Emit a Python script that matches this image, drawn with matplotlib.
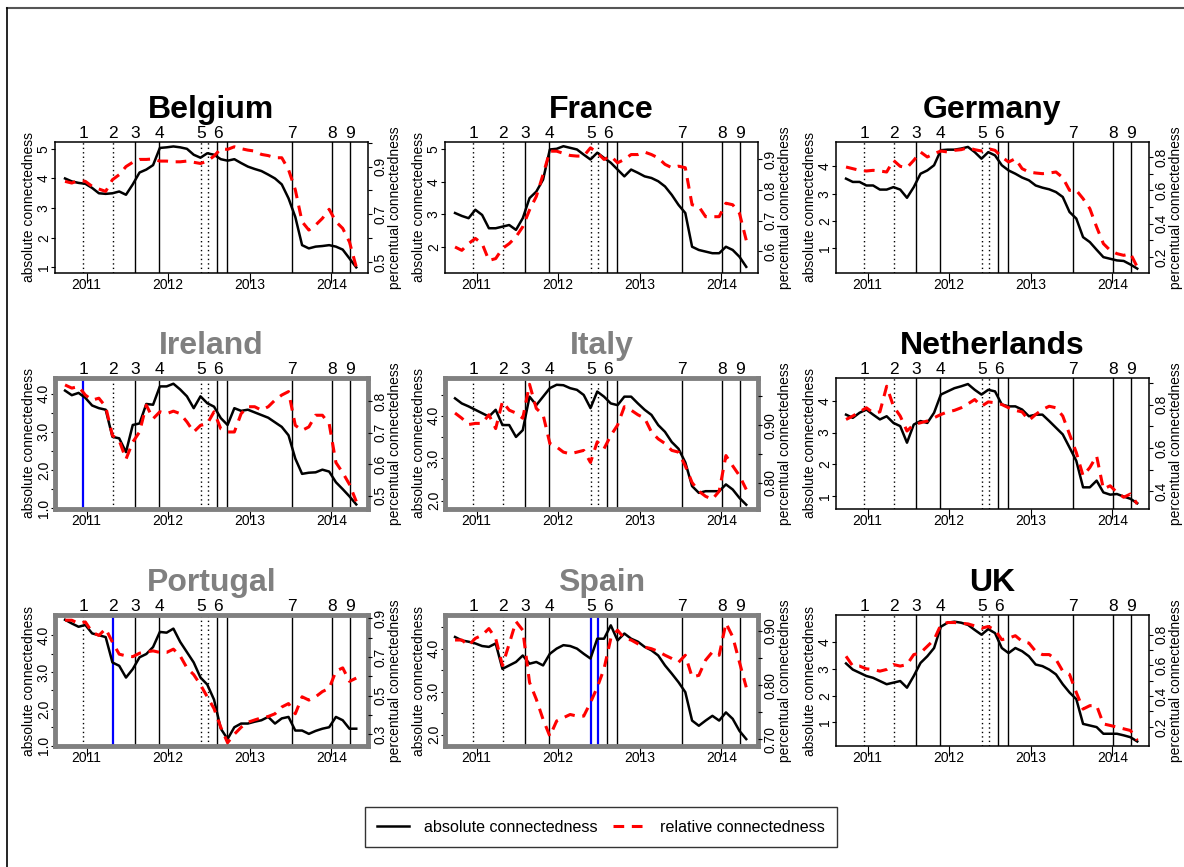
import matplotlib.pyplot as plt
import numpy as np
from matplotlib.lines import Line2D

plt.rcParams['font.family'] = ['Liberation Sans', 'DejaVu Sans']

# monthly observation grid (decimal years)
years = np.linspace(2010.735, 2014.305, 44)

events = [2010.959, 2011.327, 2011.592, 2011.890, 2012.400, 2012.482,
          2012.604, 2012.722, 2013.522, 2014.012, 2014.224]
event_labels = ['1', '2', '3', '4', '5', '', '6', '', '7', '8', '9']
event_dotted = [True, True, False, False, True, True, False, False, False, False, False]
year_ticks = [2011, 2012, 2013, 2014]

countries = ['Belgium', 'France', 'Germany', 'Ireland', 'Italy', 'Netherlands',
             'Portugal', 'Spain', 'UK']
highlighted = ['Ireland', 'Italy', 'Portugal', 'Spain']
blue_events = {'Ireland': [0], 'Portugal': [1], 'Spain': [4, 5]}

belgium_abs = [4.0, 3.9, 3.85, 3.82, 3.68, 3.5, 3.48, 3.5, 3.56, 3.45, 3.8, 4.2, 4.3, 4.45,
               5.03, 5.05, 5.08, 5.05, 5.0, 4.8, 4.7, 4.85, 4.8, 4.65, 4.6, 4.65, 4.52, 4.4,
               4.32, 4.25, 4.13, 4.0, 3.8, 3.33, 2.7, 1.75, 1.64, 1.7, 1.72, 1.75, 1.7, 1.6,
               1.3, 1.0]
belgium_rel = [0.838, 0.831, 0.842, 0.838, 0.817, 0.806, 0.796, 0.845, 0.866, 0.90, 0.918,
               0.93, 0.93, 0.932, 0.923, 0.923, 0.92, 0.92, 0.923, 0.918, 0.913, 0.923, 0.944,
               0.975, 0.972, 0.983, 0.975, 0.969, 0.965, 0.951, 0.946, 0.937, 0.937, 0.887,
               0.803, 0.669, 0.634, 0.655, 0.683, 0.721, 0.669, 0.641, 0.584, 0.479]

france_abs = [3.04, 2.95, 2.88, 3.14, 2.98, 2.57, 2.57, 2.62, 2.67, 2.52, 2.88, 3.5, 3.7, 4.07,
              5.0, 5.02, 5.1, 5.05, 5.0, 4.84, 4.69, 4.9, 4.74, 4.59, 4.38, 4.17, 4.38, 4.28,
              4.17, 4.12, 4.02, 3.86, 3.6, 3.29, 3.04, 2.0, 1.9, 1.85, 1.8, 1.8, 2.0, 1.9,
              1.69, 1.38]
france_rel = [0.614, 0.603, 0.625, 0.642, 0.625, 0.57, 0.576, 0.609, 0.625, 0.647, 0.68, 0.735,
              0.779, 0.851, 0.927, 0.927, 0.92, 0.913, 0.911, 0.911, 0.938, 0.922, 0.9, 0.911,
              0.889, 0.9, 0.916, 0.916, 0.924, 0.916, 0.905, 0.884, 0.873, 0.878, 0.873, 0.752,
              0.746, 0.713, 0.713, 0.713, 0.757, 0.752, 0.724, 0.636]

germany_abs = [3.55, 3.43, 3.43, 3.3, 3.3, 3.15, 3.15, 3.24, 3.15, 2.85, 3.24, 3.73, 3.85, 4.04,
               4.59, 4.61, 4.61, 4.65, 4.71, 4.52, 4.28, 4.52, 4.4, 4.04, 3.85, 3.73, 3.59,
               3.49, 3.3, 3.22, 3.16, 3.06, 2.88, 2.33, 2.09, 1.41, 1.23, 0.95, 0.68, 0.62,
               0.56, 0.54, 0.41, 0.26]
germany_rel = [0.74, 0.73, 0.72, 0.716, 0.72, 0.716, 0.71, 0.78, 0.744, 0.736, 0.78, 0.83, 0.8,
               0.82, 0.836, 0.83, 0.84, 0.844, 0.856, 0.844, 0.836, 0.85, 0.84, 0.8, 0.77, 0.79,
               0.73, 0.71, 0.704, 0.7, 0.704, 0.71, 0.676, 0.6, 0.6, 0.55, 0.49, 0.38, 0.28,
               0.24, 0.22, 0.21, 0.22, 0.14]

ireland_abs = [4.08, 3.96, 4.02, 3.89, 3.69, 3.62, 3.58, 2.87, 2.83, 2.47, 3.18, 3.22, 3.73,
               3.71, 4.19, 4.19, 4.26, 4.11, 3.93, 3.62, 3.93, 3.75, 3.66, 3.36, 3.18, 3.62,
               3.55, 3.58, 3.51, 3.44, 3.37, 3.25, 3.13, 2.91, 2.3, 1.9, 1.93, 1.94, 2.01, 1.96,
               1.68, 1.5, 1.31, 1.1]
ireland_rel = [0.851, 0.841, 0.846, 0.819, 0.803, 0.809, 0.782, 0.691, 0.675, 0.616, 0.67,
               0.702, 0.787, 0.744, 0.766, 0.76, 0.768, 0.76, 0.734, 0.702, 0.723, 0.728, 0.766,
               0.712, 0.702, 0.702, 0.76, 0.782, 0.782, 0.771, 0.782, 0.803, 0.819, 0.83, 0.723,
               0.707, 0.718, 0.755, 0.755, 0.728, 0.605, 0.573, 0.536, 0.482]

italy_abs = [4.41, 4.29, 4.22, 4.14, 4.06, 3.98, 4.14, 3.78, 3.78, 3.5, 3.66, 4.45, 4.25, 4.45,
             4.65, 4.73, 4.72, 4.65, 4.61, 4.49, 4.18, 4.57, 4.45, 4.29, 4.25, 4.45, 4.45, 4.29,
             4.14, 4.02, 3.78, 3.62, 3.38, 3.22, 2.9, 2.34, 2.18, 2.22, 2.22, 2.22, 2.38, 2.26,
             2.06, 1.9]
italy_rel = [0.921, 0.912, 0.901, 0.903, 0.903, 0.918, 0.894, 0.941, 0.926, 0.921, 0.912, 0.971,
             0.929, 0.918, 0.868, 0.862, 0.853, 0.85, 0.853, 0.856, 0.835, 0.871, 0.859, 0.882,
             0.9, 0.932, 0.926, 0.918, 0.912, 0.888, 0.876, 0.868, 0.856, 0.853, 0.829, 0.8,
             0.785, 0.776, 0.771, 0.785, 0.847, 0.829, 0.812, 0.788]

netherlands_abs = [3.56, 3.46, 3.62, 3.72, 3.56, 3.41, 3.51, 3.3, 3.2, 2.68, 3.25, 3.36, 3.3,
                   3.62, 4.19, 4.29, 4.39, 4.45, 4.52, 4.34, 4.19, 4.34, 4.29, 3.88, 3.82, 3.82,
                   3.72, 3.51, 3.56, 3.56, 3.36, 3.15, 2.94, 2.53, 2.11, 1.28, 1.28, 1.49, 1.12,
                   1.05, 1.07, 0.99, 0.92, 0.78]
netherlands_rel = [0.731, 0.747, 0.766, 0.785, 0.762, 0.766, 0.884, 0.792, 0.747, 0.678, 0.708,
                   0.716, 0.724, 0.739, 0.754, 0.766, 0.773, 0.785, 0.803, 0.823, 0.792, 0.812,
                   0.808, 0.8, 0.785, 0.773, 0.766, 0.727, 0.754, 0.777, 0.792, 0.785, 0.747,
                   0.663, 0.579, 0.472, 0.51, 0.563, 0.411, 0.426, 0.395, 0.373, 0.388, 0.342]

portugal_abs = [4.42, 4.32, 4.23, 4.28, 4.05, 4.0, 3.95, 3.26, 3.17, 2.85, 3.08, 3.4, 3.49,
                3.68, 4.09, 4.07, 4.18, 3.82, 3.54, 3.26, 2.85, 2.66, 2.25, 1.46, 1.18, 1.5,
                1.6, 1.6, 1.65, 1.69, 1.78, 1.6, 1.74, 1.78, 1.41, 1.41, 1.32, 1.4, 1.46, 1.5,
                1.78, 1.69, 1.46, 1.46]
portugal_rel = [0.891, 0.891, 0.874, 0.882, 0.829, 0.812, 0.847, 0.777, 0.715, 0.706, 0.702,
                0.72, 0.727, 0.732, 0.724, 0.724, 0.741, 0.706, 0.644, 0.609, 0.556, 0.494,
                0.433, 0.336, 0.256, 0.3, 0.336, 0.362, 0.374, 0.385, 0.392, 0.406, 0.441, 0.459,
                0.406, 0.494, 0.477, 0.494, 0.521, 0.538, 0.627, 0.644, 0.574, 0.591]

spain_abs = [4.27, 4.19, 4.16, 4.12, 4.06, 4.04, 4.12, 3.53, 3.61, 3.69, 3.84, 3.65, 3.69, 3.61,
             3.88, 4.0, 4.08, 4.06, 4.0, 3.88, 3.77, 4.23, 4.23, 4.54, 4.19, 4.35, 4.23, 4.16,
             4.04, 3.96, 3.84, 3.61, 3.42, 3.22, 2.99, 2.33, 2.21, 2.33, 2.44, 2.33, 2.52, 2.37,
             2.09, 1.9]
spain_rel = [0.883, 0.883, 0.873, 0.886, 0.892, 0.904, 0.886, 0.836, 0.876, 0.917, 0.901, 0.805,
             0.774, 0.737, 0.706, 0.734, 0.74, 0.746, 0.743, 0.743, 0.768, 0.796, 0.83, 0.886,
             0.901, 0.886, 0.883, 0.876, 0.87, 0.867, 0.862, 0.855, 0.849, 0.842, 0.855, 0.815,
             0.818, 0.846, 0.861, 0.855, 0.914, 0.889, 0.842, 0.796]

uk_abs = [3.21, 2.98, 2.86, 2.74, 2.67, 2.55, 2.43, 2.49, 2.55, 2.3, 2.74, 3.23, 3.48, 3.79,
          4.59, 4.74, 4.78, 4.74, 4.66, 4.47, 4.29, 4.5, 4.35, 3.79, 3.6, 3.79, 3.67, 3.48,
          3.17, 3.11, 2.98, 2.8, 2.43, 2.12, 1.87, 0.94, 0.88, 0.82, 0.57, 0.57, 0.57, 0.51,
          0.44, 0.28]
uk_rel = [0.66, 0.596, 0.596, 0.578, 0.574, 0.563, 0.574, 0.606, 0.596, 0.606, 0.671, 0.682,
          0.725, 0.768, 0.865, 0.88, 0.88, 0.875, 0.871, 0.858, 0.843, 0.854, 0.832, 0.768,
          0.778, 0.794, 0.757, 0.746, 0.692, 0.671, 0.671, 0.639, 0.563, 0.542, 0.424, 0.316,
          0.338, 0.338, 0.219, 0.209, 0.198, 0.187, 0.176, 0.112]

abs_series = [belgium_abs, france_abs, germany_abs, ireland_abs, italy_abs, netherlands_abs,
              portugal_abs, spain_abs, uk_abs]
rel_series = [belgium_rel, france_rel, germany_rel, ireland_rel, italy_rel, netherlands_rel,
              portugal_rel, spain_rel, uk_rel]

left_ticks = [[1, 2, 3, 4, 5], [2, 3, 4, 5], [1, 2, 3, 4],
              [1.0, 1.5, 2.0, 2.5, 3.0, 3.5, 4.0], [2.0, 2.5, 3.0, 3.5, 4.0, 4.5], [1, 2, 3, 4],
              [1.0, 1.5, 2.0, 2.5, 3.0, 3.5, 4.0], [2.0, 2.5, 3.0, 3.5, 4.0, 4.5], [1, 2, 3, 4]]
left_labels = [['1', '2', '3', '4', '5'], ['2', '3', '4', '5'], ['1', '2', '3', '4'],
               ['1.0', '', '2.0', '', '3.0', '', '4.0'], ['2.0', '', '3.0', '', '4.0', ''],
               ['1', '2', '3', '4'],
               ['1.0', '', '2.0', '', '3.0', '', '4.0'], ['2.0', '', '3.0', '', '4.0', ''],
               ['1', '2', '3', '4']]
left_lims = [(0.81, 5.23), (1.19, 5.23), (0.10, 4.89), (0.98, 4.41), (1.80, 4.89),
             (0.60, 4.71), (0.99, 4.55), (1.74, 4.78), (0.11, 5.03)]

right_ticks = [[0.5, 0.6, 0.7, 0.8, 0.9, 1.0], [0.6, 0.7, 0.8, 0.9],
               [0.2, 0.3, 0.4, 0.5, 0.6, 0.7, 0.8], [0.5, 0.6, 0.7, 0.8],
               [0.80, 0.85, 0.90, 0.95], [0.4, 0.5, 0.6, 0.7, 0.8, 0.9],
               [0.3, 0.4, 0.5, 0.6, 0.7, 0.8, 0.9], [0.70, 0.75, 0.80, 0.85, 0.90],
               [0.2, 0.3, 0.4, 0.5, 0.6, 0.7, 0.8]]
right_labels = [['0.5', '', '0.7', '', '0.9', ''], ['0.6', '0.7', '0.8', '0.9'],
                ['0.2', '', '0.4', '', '0.6', '', '0.8'], ['0.5', '0.6', '0.7', '0.8'],
                ['0.80', '', '0.90', ''], ['0.4', '', '0.6', '', '0.8', ''],
                ['0.3', '', '0.5', '', '0.7', '', '0.9'], ['0.70', '', '0.80', '', '0.90'],
                ['0.2', '', '0.4', '', '0.6', '', '0.8']]
right_lims = [(0.454, 1.003), (0.529, 0.957), (0.104, 0.89), (0.458, 0.873), (0.754, 0.982),
              (0.319, 0.922), (0.239, 0.918), (0.688, 0.929), (0.075, 0.929)]

W, H = 1184, 867
col_x = [55, 445, 836]
row_y = [142, 378, 615]
box_w, box_h = 313, 131

GREY = '#808080'
RED_DASH = (0, (3.5, 2.5))

fig = plt.figure(figsize=(W / 100, H / 100), dpi=100)


def draw_panel(i):
    name = countries[i]
    x0 = col_x[i % 3]
    y0 = row_y[i // 3]
    ax = fig.add_axes([x0 / W, 1 - (y0 + box_h) / H, box_w / W, box_h / H])
    ax2 = ax.twinx()
    hl = name in highlighted

    for k, ev in enumerate(events):
        if k in blue_events.get(name, []):
            ax.axvline(ev, color='blue', lw=1.6, zorder=1)
        elif event_dotted[k]:
            ax.axvline(ev, color='black', lw=1.0, ls=(0, (1, 2.2)), zorder=1)
        else:
            ax.axvline(ev, color='black', lw=1.0, zorder=1)
        if event_labels[k]:
            ax.annotate(event_labels[k], xy=(ev, 1), xycoords=('data', 'axes fraction'),
                        xytext=(0, 1), textcoords='offset points', ha='center', va='bottom',
                        fontsize=12.5)

    ax.plot(years, abs_series[i], color='black', lw=1.8, zorder=3)
    ax2.plot(years, rel_series[i], color='red', lw=2.2, ls=RED_DASH, zorder=3)

    ax.set_xlim(2010.612, 2014.449)
    ax.set_xticks(year_ticks)
    ax.set_xticklabels([str(y) for y in year_ticks])
    ax.tick_params(axis='x', direction='out', length=7, pad=-3.5, labelsize=10)

    ax.set_ylim(*left_lims[i])
    ax.set_yticks(left_ticks[i])
    ax.set_yticklabels(left_labels[i])
    ax.tick_params(axis='y', direction='out', length=3, pad=0, labelsize=10, labelrotation=90)
    for lab in ax.get_yticklabels():
        lab.set_va('center')
    ax.set_ylabel('absolute connectedness', fontsize=10, labelpad=0.5)

    ax2.set_ylim(*right_lims[i])
    ax2.set_yticks(right_ticks[i])
    ax2.set_yticklabels(right_labels[i])
    ax2.tick_params(axis='y', direction='out', length=3, pad=1, labelsize=10, labelrotation=90)
    for lab in ax2.get_yticklabels():
        lab.set_va('center')
    ax2.set_ylabel('percentual connectedness', fontsize=10, labelpad=0.5)

    for sp in ax2.spines.values():
        sp.set_visible(False)
    for sp in ax.spines.values():
        if hl:
            sp.set_color(GREY)
            sp.set_linewidth(3.5)
        else:
            sp.set_color('black')
            sp.set_linewidth(1.1)
        sp.set_zorder(5)

    ax.set_title(name, fontsize=23, fontweight='bold', pad=17,
                 color=GREY if hl else 'black')


for i in range(len(countries)):
    draw_panel(i)

handles = [Line2D([], [], color='black', lw=1.8),
           Line2D([], [], color='red', lw=2.2, ls=RED_DASH)]
leg = fig.legend(handles, ['absolute connectedness', 'relative connectedness'],
                 loc='center', bbox_to_anchor=(601 / W, 1 - 827 / H), ncol=2, fontsize=11.6,
                 frameon=True, fancybox=False, edgecolor='black', handlelength=2.0,
                 columnspacing=0.9, borderpad=0.75, handletextpad=0.95)
leg.get_frame().set_linewidth(1.0)

fig.add_artist(Line2D([7 / W, 1], [1 - 8 / H, 1 - 8 / H], color='#555555', lw=1.5,
                      transform=fig.transFigure))
fig.add_artist(Line2D([7 / W, 7 / W], [0, 1 - 8 / H], color='black', lw=1.2,
                      transform=fig.transFigure))

fig.savefig('out.png', dpi=100)
